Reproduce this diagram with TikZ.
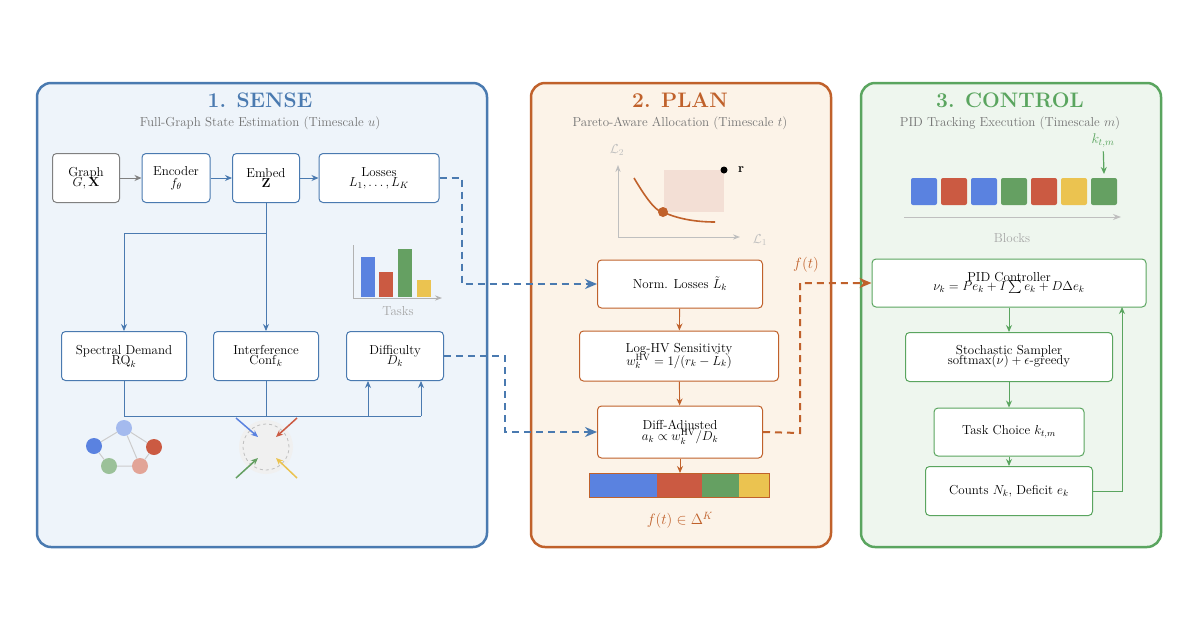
\RequirePackage{fix-cm}
\documentclass[tikz,border=0pt]{standalone}
\usepackage{amsmath,amssymb}
\usetikzlibrary{arrows.meta}
\definecolor{cb}{HTML}{4A7AB0}\definecolor{fb}{HTML}{EEF4FA}
\definecolor{co}{HTML}{C0612B}\definecolor{fo}{HTML}{FCF3E8}
\definecolor{cg}{HTML}{5AA55F}\definecolor{fg}{HTML}{EEF6EE}
\definecolor{tb}{HTML}{5A82E0}\definecolor{tr}{HTML}{CB5A42}\definecolor{tg}{HTML}{65A062}\definecolor{ty}{HTML}{EBC350}
\begin{document}
\begin{tikzpicture}[x=1pt,y=-1pt,
 panel/.style={rounded corners=14pt,line width=2.5pt},
 box/.style={draw,rounded corners=4pt,fill=white,line width=1pt,align=center,inner sep=2pt,font=\fontsize{13}{13}\selectfont},
 ttl/.style={font=\fontsize{21}{22}\selectfont\bfseries},
 sub/.style={font=\fontsize{13}{14}\selectfont,text=gray!90!black},
 arr/.style={-{Stealth[length=7pt,width=6pt]},line width=0.9pt},
 dsh/.style={dashed,dash pattern=on 7pt off 5pt,line width=2pt,-{Stealth[length=12pt,width=10pt]}}]
\useasboundingbox (0,0) rectangle (1200,630);
% panels
\draw[panel,draw=cb,fill=fb] (37,83) rectangle (487,547);
\draw[panel,draw=co,fill=fo] (531,83) rectangle (831,547);
\draw[panel,draw=cg,fill=fg] (861,83) rectangle (1161,547);
\node[ttl,text=cb] (t1) at (260,100) {1. SENSE};
\node[sub] (s1) at (260,123) {Full-Graph State Estimation (Timescale $u$)};
\node[ttl,text=co] (t2) at (680,100) {2. PLAN};
\node[sub] (s2) at (680,123) {Pareto-Aware Allocation (Timescale $t$)};
\node[ttl,text=cg] (t3) at (1010,100) {3. CONTROL};
\node[sub] (s3) at (1010,123) {PID Tracking Execution (Timescale $m$)};
% panel 1 nodes
\node[box,draw=gray,minimum width=67pt,minimum height=49pt] (graph) at (86,178) {Graph\\[-3pt]$G,\mathbf{X}$};
\node[box,draw=cb,minimum width=68pt,minimum height=49pt] (enc) at (176,178) {Encoder\\[-1pt]$f_\theta$};
\node[box,draw=cb,minimum width=67pt,minimum height=49pt] (emb) at (266,178) {Embed\\[-3pt]$\mathbf{Z}$};
\node[box,draw=cb,minimum width=120pt,minimum height=49pt] (loss) at (379,178) {Losses\\[-3pt]$L_1,\ldots,L_K$};
\node[box,draw=cb,minimum width=125pt,minimum height=49pt] (spec) at (124,356) {Spectral Demand\\[-3pt]$\mathrm{RQ}_k$};
\node[box,draw=cb,minimum width=105pt,minimum height=49pt] (intf) at (266,356) {Interference\\[-3pt]$\mathrm{Conf}_k$};
\node[box,draw=cb,minimum width=97pt,minimum height=49pt] (diff) at (395,356) {Difficulty\\[-3pt]$D_k$};
\draw[arr,gray] (graph) -- (enc);
\draw[arr,cb] (enc) -- (emb);
\draw[arr,cb] (emb) -- (loss);
\draw[arr,cb] (emb) -- (intf);
\coordinate (br) at (266,233);
\draw[arr,cb] (br) -| (spec);
\coordinate (j1) at (368,416); \coordinate (j2) at (421,416);
\draw[cb,line width=0.9pt] (spec.south) |- (j2);
\draw[cb,line width=0.9pt] (intf) -- (266,416);
\draw[arr,cb] (j1) -- (j1 |- diff.south);
\draw[arr,cb] (j2) -- (j2 |- diff.south);
% bar chart
\draw[gray!60,line width=1pt,-{Stealth[length=7pt]}] (353,245) -- (353,298) -- (442,298);
\fill[tb] (361,257) rectangle (375,297);
\fill[tr] (379,272) rectangle (393,297);
\fill[tg] (398,249) rectangle (412,297);
\fill[ty] (417,280) rectangle (431,297);
\node[sub,text=gray!70] (tasks) at (398,311) {Tasks};
% graph icon
\begin{scope}[every node/.style={circle,minimum size=16pt,inner sep=0}]
\node[fill=tb!55] (g1) at (124,428) {};
\node[fill=tb] (g2) at (94,446) {};
\node[fill=tr] (g3) at (154,447) {};
\node[fill=tg!65] (g4) at (109,466) {};
\node[fill=tr!55] (g5) at (140,466) {};
\end{scope}
\draw[gray!40,line width=1pt] (g1)--(g2) (g1)--(g3) (g1)--(g5) (g2)--(g4) (g4)--(g5) (g3)--(g5);
% interference icon
\node[circle,fill=gray!12,minimum size=54pt,inner sep=0] (ic) at (266,447) {};
\draw[gray!50,dashed,line width=0.8pt] (ic.center) circle (23pt);
\draw[arr,tb,line width=1.5pt] (236,418) -- (258,437);
\draw[arr,tr,line width=1.5pt] (297,418) -- (276,437);
\draw[arr,tg,line width=1.5pt] (236,478) -- (258,458);
\draw[arr,ty,line width=1.5pt] (297,478) -- (276,458);
% panel 2
\draw[gray!50,line width=1pt,{Stealth[length=7pt]}-{Stealth[length=7pt]}] (618,165) -- (618,237) -- (740,237);
\node[text=gray!50,font=\fontsize{13}{13}\selectfont] (l2) at (617,150) {$\mathcal{L}_2$};
\node[text=gray!50,font=\fontsize{13}{13}\selectfont] (l1) at (760,240) {$\mathcal{L}_1$};
\fill[co!20] (664,170) rectangle (724,212);
\fill (724,170) circle (3.5pt);
\node[font=\fontsize{13}{13}\selectfont] (r) at (741,170) {$\mathbf{r}$};
\draw[co,line width=1.6pt] (634,178) .. controls (650,205) and (658,212) .. (663,212) .. controls (680,220) and (700,222) .. (715,222);
\fill[co] (663,212) circle (5pt);
\node[box,draw=co,minimum width=165pt,minimum height=48pt] (norm) at (680,284) {Norm. Losses $\tilde L_k$};
\node[box,draw=co,minimum width=199pt,minimum height=50pt] (hv) at (679,356) {Log-HV Sensitivity\\[-3pt]$w_k^{\mathrm{HV}}=1/(r_k-\tilde L_k)$};
\node[box,draw=co,minimum width=165pt,minimum height=52pt] (dadj) at (680,432) {Diff-Adjusted\\[-3pt]$a_k\propto w_k^{\mathrm{HV}}/D_k$};
\draw[arr,co] (norm) -- (hv);
\draw[arr,co] (hv) -- (dadj);
\coordinate (bt) at (680,473);
\draw[arr,co] (dadj) -- (bt);
\fill[tb] (589,473) rectangle (657,497);
\fill[tr] (657,473) rectangle (702,497);
\fill[tg] (702,473) rectangle (739,497);
\fill[ty] (739,473) rectangle (769,497);
\draw[co,line width=1pt] (589,473) rectangle (769,497);
\node[text=co,font=\fontsize{15}{15}\selectfont] (ft) at (680,520) {$f(t)\in\Delta^K$};
% panel 3
\node[text=cg,font=\fontsize{14}{14}\selectfont] (ktm) at (1103,141) {$k_{t,m}$};
\coordinate (kb) at (1104,174);
\draw[arr,cg,line width=1.2pt] (ktm) -- (kb);
\foreach \x/\c in {911/tb,941/tr,971/tb,1001/tg,1031/tr,1061/ty,1091/tg}
  \fill[\c,rounded corners=2pt] (\x,178) rectangle ++(26,27);
\draw[gray!50,line width=1pt,-{Stealth[length=8pt]}] (904,217) -- (1121,217);
\node[sub,text=gray!70] (blk) at (1012,238) {Blocks};
\node[box,draw=cg,minimum width=274pt,minimum height=48pt] (pid) at (1009,283) {PID Controller\\[-4pt]$\nu_k=Pe_k+I\sum e_k+D\Delta e_k$};
\node[box,draw=cg,minimum width=207pt,minimum height=49pt] (samp) at (1009,357) {Stochastic Sampler\\[-3pt]$\mathrm{softmax}(\nu)+\epsilon$-greedy};
\node[box,draw=cg,minimum width=150pt,minimum height=48pt] (task) at (1009,432) {Task Choice $k_{t,m}$};
\node[box,draw=cg,minimum width=167pt,minimum height=49pt] (cnt) at (1009,491) {Counts $N_k$, Deficit $e_k$};
\draw[arr,cg] (pid) -- (samp);
\draw[arr,cg] (samp) -- (task);
\draw[arr,cg] (task) -- (cnt);
\coordinate (fbk) at (1122,491);
\draw[arr,cg] (cnt.east) -- (fbk) -- (1122,307);
% dashed connectors
\coordinate (d1) at (462,178); \coordinate (d2) at (505,356); \coordinate (d3) at (800,433);
\draw[dsh,cb] (loss.east) -- (d1) |- (norm.west);
\draw[dsh,cb] (diff.east) -- (d2) |- (dadj.west);
\draw[dsh,co] (dadj.east) -- (d3) |- (pid.west);
\node[text=co,font=\fontsize{15}{15}\selectfont] (flab) at (806,265) {$f(t)$};
\end{tikzpicture}
\end{document}
